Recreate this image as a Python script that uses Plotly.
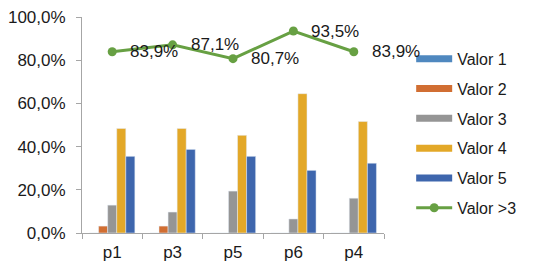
import plotly.graph_objects as go

categories = ["p1", "p3", "p5", "p6", "p4"]
valor1 = [0.0, 0.0, 0.0, 0.0, 0.0]
valor2 = [3.2, 3.2, 0.0, 0.0, 0.0]
valor3 = [12.9, 9.7, 19.4, 6.5, 16.1]
valor4 = [48.4, 48.4, 45.2, 64.5, 51.6]
valor5 = [35.5, 38.7, 35.5, 29.0, 32.3]
valor_gt3 = [83.9, 87.1, 80.7, 93.5, 83.9]
y_ticks = [0, 20, 40, 60, 80, 100]

bar_series = [
    ("Valor 1", valor1, "#4F88BF"),
    ("Valor 2", valor2, "#D16E32"),
    ("Valor 3", valor3, "#959595"),
    ("Valor 4", valor4, "#E3A828"),
    ("Valor 5", valor5, "#3E66AD"),
]
line_color = "#67A043"
font_family = "Liberation Sans, Arial, sans-serif"
text_color = "#1a1a1a"


def pct(v):
    return f"{v:.1f}%".replace(".", ",")


fig = go.Figure()
for i, (name, vals, col) in enumerate(bar_series):
    fig.add_trace(go.Bar(x=categories, y=vals, name=name, marker_color=col,
                         showlegend=False, legendgroup=f"g{i}"))
    fig.add_trace(go.Scatter(x=[categories[0]], y=[None], mode="lines", name=name,
                             line=dict(color=col, width=7), legendgroup=f"g{i}",
                             showlegend=True, hoverinfo="skip"))

fig.add_trace(go.Scatter(x=categories, y=valor_gt3, mode="lines+markers",
                         name="Valor >3", line=dict(color=line_color, width=3),
                         marker=dict(color=line_color, size=9), legendgroup="g5",
                         cliponaxis=False))

for c, v in zip(categories, valor_gt3):
    fig.add_annotation(x=c, y=v, text=pct(v),
                       showarrow=False, xanchor="left", yanchor="middle",
                       xshift=16, font=dict(size=17, color=text_color, family=font_family))

fig.update_layout(
    width=535, height=278,
    margin=dict(l=82, r=151, t=17, b=45, autoexpand=False),
    paper_bgcolor="white", plot_bgcolor="white",
    barmode="group", bargap=0.25, bargroupgap=0,
    font=dict(family=font_family, size=17, color=text_color),
    legend=dict(x=1.09, y=0.885, xanchor="left", yanchor="top",
                font=dict(size=16, color=text_color), tracegroupgap=6,
                itemwidth=36, bgcolor="rgba(0,0,0,0)"),
)
fig.update_xaxes(type="category", categoryorder="array", categoryarray=categories,
                 range=[-0.5, len(categories) - 0.5], autorange=False, automargin=False,
                 showline=True, linecolor="#A6A6A6", linewidth=1,
                 ticks="outside", tickson="boundaries", ticklen=5, tickcolor="#A6A6A6",
                 showgrid=False, tickfont=dict(size=17), ticklabelstandoff=4)
fig.update_yaxes(range=[0, 100], tickvals=y_ticks, ticktext=[pct(t) for t in y_ticks],
                 automargin=False,
                 showline=True, linecolor="#A6A6A6", linewidth=1,
                 ticks="outside", ticklen=5, tickcolor="#A6A6A6", showgrid=False,
                 zeroline=False, tickfont=dict(size=17), ticklabelstandoff=7)

fig.write_html("out.html")
